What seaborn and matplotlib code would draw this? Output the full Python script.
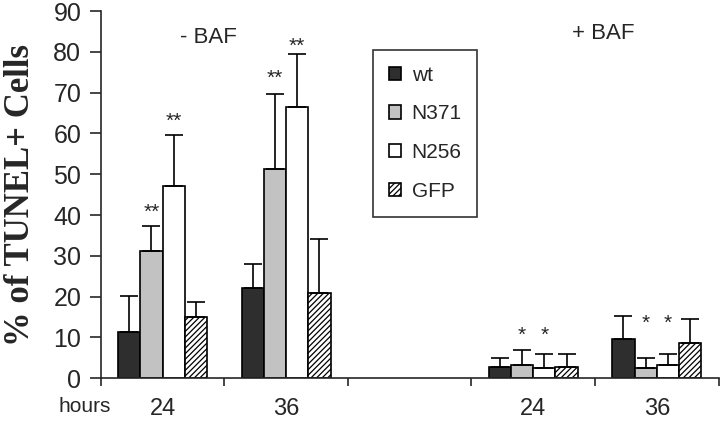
import pandas as pd
import numpy as np
import matplotlib.pyplot as plt
import seaborn as sns

# slots on the x axis (the empty one separates -BAF from +BAF)
slots = ["-BAF 24", "-BAF 36", "gap", "+BAF 24", "+BAF 36"]
slot_labels = ["24", "36", "", "24", "36"]
conditions = ["-BAF 24", "-BAF 36", "+BAF 24", "+BAF 36"]
constructs = ["wt", "N371", "N256", "GFP"]

# means (% TUNEL+ cells)
wt = [11.4, 22.0, 2.7, 9.5]
n371 = [31.1, 51.3, 3.2, 2.5]
n256 = [47.1, 66.5, 2.5, 3.2]
gfp = [14.9, 21.0, 2.8, 8.7]

# upper error bars
wt_err = [8.7, 6.1, 2.3, 5.8]
n371_err = [6.2, 18.3, 3.8, 2.5]
n256_err = [12.5, 12.9, 3.5, 2.8]
gfp_err = [3.7, 13.1, 3.2, 5.8]

# significance marks: condition, construct, mark, height
star_cond = ["-BAF 24", "-BAF 24", "-BAF 36", "-BAF 36", "+BAF 24", "+BAF 24", "+BAF 36", "+BAF 36"]
star_con = ["N371", "N256", "N371", "N256", "N371", "N256", "N371", "N256"]
star_txt = ["**", "**", "**", "**", "*", "*", "*", "*"]
star_y = [40.6, 62.9, 73.5, 81.3, 10.6, 10.6, 13.4, 13.4]

df = pd.DataFrame({
    "cond": conditions * 4,
    "construct": np.repeat(constructs, 4),
    "value": wt + n371 + n256 + gfp,
    "err": wt_err + n371_err + n256_err + gfp_err,
})

sns.set_style("ticks")
plt.rcParams["font.family"] = ["Liberation Sans", "DejaVu Sans"]
plt.rcParams["hatch.linewidth"] = 0.9

fig = plt.figure(figsize=(7.2, 4.25), dpi=100)
ax = fig.add_axes([0.140, 0.110, 0.858, 0.864])

face = {"wt": "#2e2e2e", "N371": "#c2c2c2", "N256": "white", "GFP": "white"}
hatch = {"wt": "", "N371": "", "N256": "", "GFP": "//////"}

sns.barplot(data=df, x="cond", y="value", hue="construct", order=slots,
            hue_order=constructs, palette=face, width=0.72, errorbar=None,
            edgecolor="black", linewidth=1.2, ax=ax)

# hatching + error bars, one container per construct
for con, cont in zip(constructs, ax.containers):
    sub = df[df["construct"] == con]
    for bar in cont:
        bar.set_hatch(hatch[con])
        cx = bar.get_x() + bar.get_width() / 2
        slot = slots[int(round(cx))]
        row = sub[sub["cond"] == slot]
        if row.empty:
            continue
        v = row["value"].iloc[0]
        e = row["err"].iloc[0]
        ax.errorbar(cx, v, yerr=[[0], [e]], fmt="none", ecolor="black",
                    elinewidth=1.2, capsize=6.5, capthick=1.2, zorder=1)

# asterisks
for c, k, t, y in zip(star_cond, star_con, star_txt, star_y):
    i = slots.index(c)
    j = constructs.index(k)
    bar = ax.containers[j]
    xs = [b.get_x() + b.get_width() / 2 for b in bar]
    cx = min(xs, key=lambda q: abs(q - i))
    ax.text(cx, y, t, ha="center", va="center", fontsize=15)

ax.text(0.37, 83.6, "- BAF", ha="center", va="center", fontsize=16)
ax.text(3.57, 84.6, "+ BAF", ha="center", va="center", fontsize=16)

ax.set_xlim(-0.5, 4.5)
ax.set_ylim(0, 90)
ax.set_yticks(range(0, 91, 10))
ax.set_xticks(np.arange(-0.5, 4.6, 1.0))
ax.set_xticklabels([])
ax.set_xticks(range(5), minor=True)
ax.set_xticklabels(slot_labels, minor=True, fontsize=17)
ax.tick_params(axis="x", which="minor", length=0, pad=14)
ax.tick_params(axis="x", which="major", length=6, width=1.2)
ax.tick_params(axis="y", labelsize=18, length=8, width=1.2, pad=6)
for s in ["left", "bottom"]:
    ax.spines[s].set_linewidth(1.2)
sns.despine(ax=ax)

ax.set_xlabel("")
ax.set_ylabel("% of TUNEL+ Cells", fontsize=25, fontweight="bold",
              family=["Liberation Serif", "DejaVu Serif"], labelpad=12)
fig.text(59 / 720, 1 - 406 / 425, "hours", fontsize=15, va="center")

leg = ax.legend(loc="upper left", bbox_to_anchor=(373 / 720, 1 - 50 / 425),
                bbox_transform=fig.transFigure, frameon=True, fancybox=False,
                edgecolor="black", fontsize=15, handlelength=0.6, handleheight=0.6,
                labelspacing=0.95, borderpad=0.75, handletextpad=0.5,
                borderaxespad=0)
leg.get_frame().set_linewidth(1.2)
for con, h in zip(constructs, leg.legend_handles):
    h.set_hatch(hatch[con])

fig.savefig("out.png", dpi=100)
